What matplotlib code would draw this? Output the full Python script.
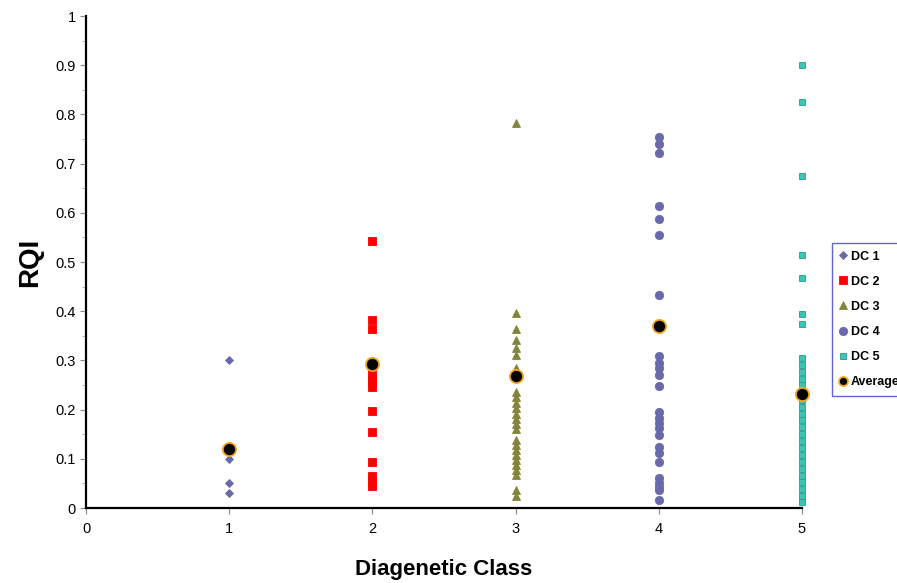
import numpy as np
import matplotlib.pyplot as plt

plt.rcParams['font.family'] = ['Liberation Sans', 'DejaVu Sans']

# RQI values read per diagenetic class
dc1 = [0.30, 0.10, 0.05, 0.03]
dc2 = [0.543, 0.383, 0.363, 0.274, 0.265, 0.255, 0.245, 0.197, 0.155,
       0.093, 0.065, 0.055, 0.045]
dc3 = [0.782, 0.396, 0.363, 0.341, 0.325, 0.311, 0.284, 0.236, 0.225,
       0.214, 0.203, 0.192, 0.181, 0.170, 0.160, 0.138, 0.128, 0.118,
       0.108, 0.098, 0.088, 0.078, 0.068, 0.036, 0.025]
dc4 = [0.755, 0.739, 0.721, 0.614, 0.587, 0.555, 0.433, 0.308, 0.294,
       0.284, 0.270, 0.248, 0.196, 0.182, 0.172, 0.162, 0.148, 0.125,
       0.111, 0.094, 0.060, 0.050, 0.043, 0.037, 0.016]
dc5 = [0.900, 0.825, 0.675, 0.515, 0.467, 0.394, 0.374, 0.305, 0.291,
       0.277, 0.263, 0.249, 0.220, 0.206, 0.192, 0.178, 0.164, 0.150,
       0.136, 0.122, 0.108, 0.094, 0.080, 0.066, 0.052, 0.038, 0.024,
       0.012]
classes = [1, 2, 3, 4, 5]
averages = [0.120, 0.293, 0.268, 0.369, 0.232]
yticks = [0, 0.1, 0.2, 0.3, 0.4, 0.5, 0.6, 0.7, 0.8, 0.9, 1]
ytick_labels = ['0', '0.1', '0.2', '0.3', '0.4', '0.5', '0.6', '0.7',
                '0.8', '0.9', '1']

series = [
    ('DC 1', dc1, 'D', '#6a6aa8', '#6a6aa8', 4.5),
    ('DC 2', dc2, 's', '#ff0000', '#ff0000', 5.5),
    ('DC 3', dc3, '^', '#85853a', '#85853a', 6),
    ('DC 4', dc4, 'o', '#6a6aaa', '#6a6aaa', 6),
    ('DC 5', dc5, 's', '#3cc4b4', '#2a9a8c', 4.5),
]

fig = plt.figure(figsize=(8.97, 5.83), dpi=100)
ax = fig.add_axes([86/897, 1 - 508/583, (802 - 86)/897, (508 - 16)/583])

for (label, vals, mk, fc, ec, ms), c in zip(series, classes):
    ax.plot([c]*len(vals), vals, ls='none', marker=mk, ms=ms, mfc=fc,
            mec=ec, mew=0.6, label=label, clip_on=False)

ax.plot(classes, averages, ls='none', marker='o', ms=9.5, mfc='black',
        mec='#f5a623', mew=1.3, label='Average', clip_on=False, zorder=5)

ax.set_xlim(0, 5)
ax.set_ylim(0, 1)
ax.set_xticks(range(6))
ax.set_yticks(yticks)
ax.set_yticklabels(ytick_labels)
ax.set_yticks(np.arange(0.05, 1, 0.1), minor=True)
ax.tick_params(axis='both', labelsize=10.5, length=4, width=0.8,
               color='#888888')
ax.tick_params(axis='y', which='minor', length=3, color='#aaaaaa')
ax.tick_params(axis='x', pad=6)

for s in ['top', 'right']:
    ax.spines[s].set_visible(False)
for s in ['left', 'bottom']:
    ax.spines[s].set_linewidth(1.6)

ax.set_ylabel('RQI', fontsize=20, fontweight='bold', labelpad=9)
ax.set_xlabel('Diagenetic Class', fontsize=16, fontweight='bold', labelpad=17)

leg = fig.legend(loc='upper left', bbox_to_anchor=(832/897, 1 - 243/583),
                 fontsize=9, frameon=True, fancybox=False,
                 edgecolor='#3a3ad0', handlelength=0.6, handletextpad=0.3,
                 labelspacing=1.05, borderpad=0.6, borderaxespad=0)
leg.get_frame().set_linewidth(1.0)
leg.legend_handles[-1].set_markersize(6.5)
for t in leg.get_texts():
    t.set_fontweight('bold')

fig.savefig('out.png', dpi=100)
